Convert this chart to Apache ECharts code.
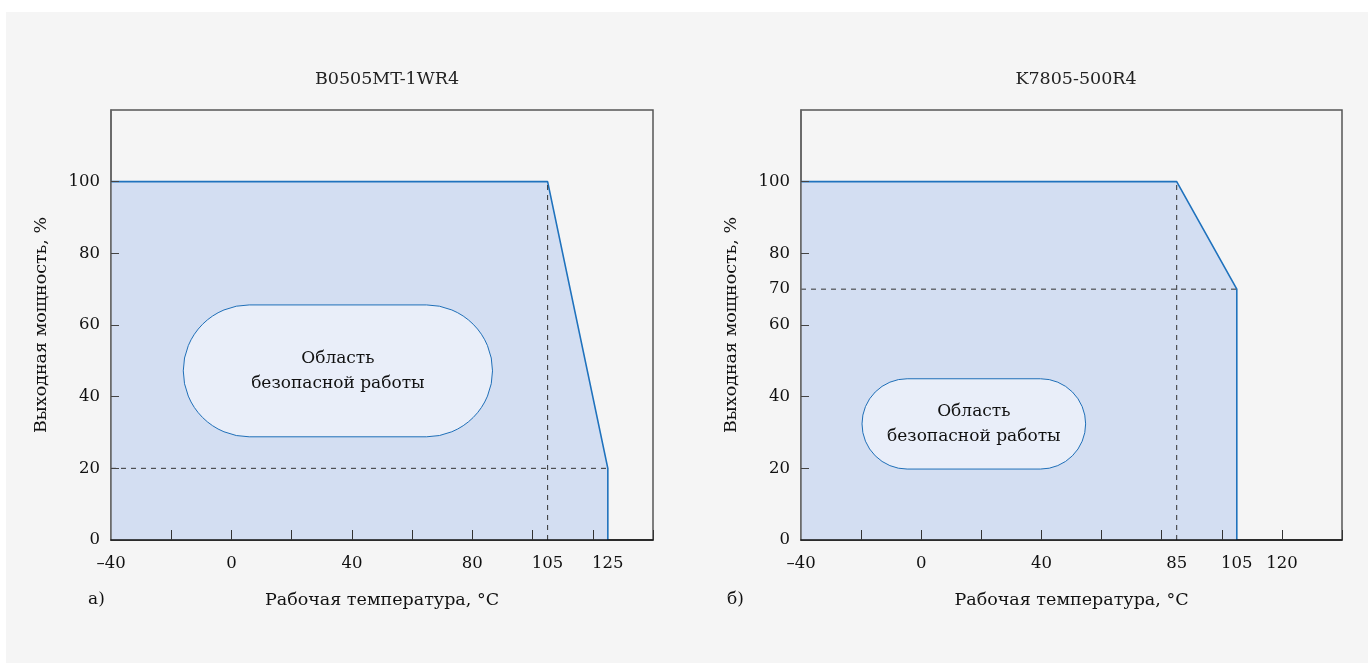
<!DOCTYPE html>
<html>
<head>
<meta charset="utf-8">
<script src="https://cdn.jsdelivr.net/npm/echarts@6/dist/echarts.min.js"></script>
<style>
  html, body { margin: 0; padding: 0; background: #fff; }
  #main { width: 1368px; height: 663px; }
</style>
</head>
<body>
<div id="main"></div>
<script>
// Данные: кривые снижения мощности
var titles = ['B0505MT-1WR4', 'K7805-500R4'];
var tempA = [-40, 105, 125, 125];
var powerA = [100, 100, 20, 0];
var tempB = [-40, 85, 105, 105];
var powerB = [100, 100, 70, 0];

// подписи осей
var xLabelsA = [-40, 0, 40, 80, 105, 125];
var xLabelsB = [-40, 0, 40, 85, 105, 120];
var xTicks = [-20, 0, 20, 40, 60, 80, 100, 120, 140];
var yLabelsA = [0, 20, 40, 60, 80, 100];
var yLabelsB = [0, 20, 40, 60, 70, 80, 100];
var yTicks = [20, 40, 60, 80, 100];

var FONT = 'DejaVu Serif';
var lineColor = '#1f72bd';
var fillColor = '#d3def2';
var panelColor = '#f5f5f5';

var chart = echarts.init(document.getElementById('main'));

function fmt(v) {
    return v < 0 ? '\u2013' + Math.abs(v) : String(v);
}

function xAxisFor(idx, labels) {
    return {
        type: 'value', gridIndex: idx, min: -40, max: 140, z: 5,
        name: 'Рабочая температура, °C', nameLocation: 'middle', nameGap: 51,
        nameTextStyle: { fontFamily: FONT, fontSize: 17.5, color: '#111' },
        axisLine: { onZero: false, lineStyle: { color: '#111', width: 1.5 } },
        axisTick: { inside: true, length: 10, customValues: xTicks, lineStyle: { color: '#333' } },
        axisLabel: { customValues: labels, formatter: fmt, margin: 15, fontFamily: FONT, fontSize: 16.5, color: '#111' },
        splitLine: { show: false }
    };
}

function yAxisFor(idx, labels) {
    return {
        type: 'value', gridIndex: idx, min: 0, max: 120, z: 5,
        name: 'Выходная мощность, %', nameLocation: 'middle', nameGap: 61,
        nameTextStyle: { fontFamily: FONT, fontSize: 17.5, color: '#111' },
        axisLine: { show: true, onZero: false, lineStyle: { color: '#666', width: 1.5 } },
        axisTick: { show: true, inside: true, length: 8, customValues: yTicks, lineStyle: { color: '#444' } },
        axisLabel: { customValues: labels, margin: 11, fontFamily: FONT, fontSize: 16.5, color: '#111' },
        splitLine: { show: false }
    };
}

function curve(idx, xs, ys) {
    return {
        type: 'line', xAxisIndex: idx, yAxisIndex: idx,
        data: xs.map(function (x, i) { return [x, ys[i]]; }),
        symbol: 'none', z: 2,
        lineStyle: { color: lineColor, width: 1.6 },
        areaStyle: { color: fillColor, opacity: 1 }
    };
}

function guide(idx, pts) {
    return {
        type: 'line', xAxisIndex: idx, yAxisIndex: idx, data: pts,
        symbol: 'none', z: 3, silent: true,
        lineStyle: { color: '#333', width: 1, type: [5, 5] }
    };
}

chart.setOption({
    animation: false,
    backgroundColor: '#fff',
    title: [
        { text: titles[0], left: 382, top: 65, textAlign: 'center',
          textStyle: { fontFamily: FONT, fontSize: 17.5, fontWeight: 'normal', color: '#222' } },
        { text: titles[1], left: 1071, top: 65, textAlign: 'center',
          textStyle: { fontFamily: FONT, fontSize: 17.5, fontWeight: 'normal', color: '#222' } }
    ],
    grid: [
        { left: 111, top: 110, width: 542, height: 430, show: true, backgroundColor: panelColor, borderColor: '#555', borderWidth: 1.5 },
        { left: 801, top: 110, width: 541, height: 430, show: true, backgroundColor: panelColor, borderColor: '#555', borderWidth: 1.5 }
    ],
    xAxis: [xAxisFor(0, xLabelsA), xAxisFor(1, xLabelsB)],
    yAxis: [yAxisFor(0, yLabelsA), yAxisFor(1, yLabelsB)],
    series: [
        curve(0, tempA, powerA),
        guide(0, [[tempA[0], powerA[2]], [tempA[2], powerA[2]]]),
        guide(0, [[tempA[1], 0], [tempA[1], powerA[1]]]),
        curve(1, tempB, powerB),
        guide(1, [[tempB[0], powerB[2]], [tempB[2], powerB[2]]]),
        guide(1, [[tempB[1], 0], [tempB[1], powerB[1]]])
    ]
});

// Овальные подписи "Область безопасной работы" (в координатах данных)
var pills = [
    { grid: 0, x0: -16, x1: 86.7, y0: 65.6, y1: 28.8 },
    { grid: 1, x0: -19.7, x1: 54.7, y0: 45, y1: 19.8 }
];

var gfx = [
    { type: 'rect', z: -100, shape: { x: 6, y: 12, width: 1362, height: 651 }, style: { fill: panelColor } },
    { type: 'text', left: 88, top: 591, style: { text: 'а)', font: '17px ' + FONT, fill: '#111' } },
    { type: 'text', left: 727, top: 591, style: { text: 'б)', font: '17px ' + FONT, fill: '#111' } }
];

pills.forEach(function (p) {
    var a = chart.convertToPixel({ gridIndex: p.grid }, [p.x0, p.y0]);
    var b = chart.convertToPixel({ gridIndex: p.grid }, [p.x1, p.y1]);
    var w = b[0] - a[0], h = b[1] - a[1];
    gfx.push({
        type: 'rect', z: 10,
        shape: { x: a[0], y: a[1], width: w, height: h, r: h / 2 },
        style: { fill: '#e9eef9', stroke: '#1f6fb8', lineWidth: 1 }
    });
    gfx.push({
        type: 'text', z: 11,
        x: a[0] + w / 2, y: a[1] + h / 2,
        style: {
            text: 'Область\nбезопасной работы',
            font: '17px ' + FONT, fill: '#111',
            align: 'center', verticalAlign: 'middle', lineHeight: 25
        }
    });
});

chart.setOption({ graphic: gfx });
</script>
</body>
</html>
